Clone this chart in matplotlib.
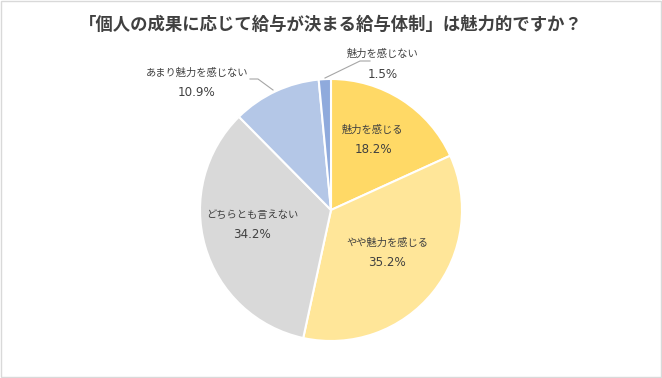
import matplotlib.pyplot as plt
from matplotlib.patches import Rectangle

plt.rcParams['font.family'] = ['Noto Sans CJK JP', 'DejaVu Sans']

# データ
labels = ['魅力を感じる', 'やや魅力を感じる', 'どちらとも言えない', 'あまり魅力を感じない', '魅力を感じない']
values = [18.2, 35.2, 34.2, 10.9, 1.5]
colors = ['#FFD966', '#FFE699', '#D9D9D9', '#B4C7E7', '#8FAADC']
title = '「個人の成果に応じて給与が決まる給与体制」は魅力的ですか？'

W, H = 662, 378
fig = plt.figure(figsize=(W / 100, H / 100), dpi=100)
fig.patch.set_facecolor('white')
fig.patches.append(Rectangle((0.001, 0.002), 0.997, 0.995, transform=fig.transFigure,
                             fill=False, edgecolor='#D9D9D9', linewidth=1))

# 円の中心と半径（ピクセル）
cx, cy, r = 331, 210, 131
ax = fig.add_axes([(cx - r) / W, (H - cy - r) / H, 2 * r / W, 2 * r / H])
ax.pie(values, colors=colors, startangle=90, counterclock=False, radius=1,
       wedgeprops=dict(edgecolor='white', linewidth=1.5))
ax.set_xlim(-1, 1)
ax.set_ylim(-1, 1)
ax.set_aspect('equal')
ax.axis('off')

def d(px, py):
    return ((px - cx) / r, (cy - py) / r)

txt = '#404040'
# ラベル位置（ピクセル、ラベル行の中心）
pos = [(373, 130), (387, 243), (252, 215), (197, 73), (383, 54)]
for lab, v, (px, py) in zip(labels, values, pos):
    x, y = d(px, py)
    ax.text(x, y, lab, ha='center', va='center', fontsize=7.4,
            color=txt, clip_on=False)
    x2, y2 = d(px, py + 20)
    ax.text(x2, y2, f'{v}%', ha='center', va='center', fontsize=8.6,
            color=txt, family='DejaVu Sans', clip_on=False)

# 引き出し線
for pts in [[(250, 79), (258, 79), (273, 90)], [(370, 61), (360, 61), (325, 78)]]:
    xs, ys = zip(*[d(px, py) for px, py in pts])
    ax.plot(xs, ys, color='#A6A6A6', linewidth=0.8, clip_on=False)

fig.text(0.5, (H - 25) / H, title, ha='center', va='center', fontsize=12.5,
         fontweight='bold', color='#404040')

fig.savefig('out.png', dpi=100)
